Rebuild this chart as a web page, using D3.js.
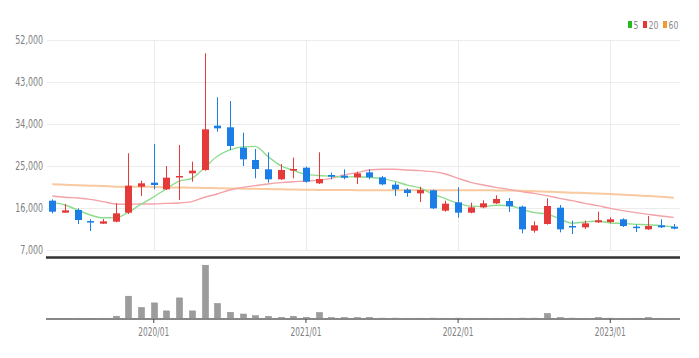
<!DOCTYPE html>
<html>
<head>
<meta charset="utf-8">
<script src="https://cdn.jsdelivr.net/npm/d3@7"></script>
<style>
  html, body { margin: 0; padding: 0; background: #fff; }
  svg { display: block; }
  text { font-family: "Liberation Sans Narrow", "DejaVu Sans Condensed", "Liberation Sans", sans-serif; }
</style>
</head>
<body>
<svg id="chart" width="699" height="358"></svg>
<script>
const months = ["2019/05","2019/06","2019/07","2019/08","2019/09","2019/10","2019/11","2019/12",
  "2020/01","2020/02","2020/03","2020/04","2020/05","2020/06","2020/07","2020/08","2020/09","2020/10","2020/11","2020/12",
  "2021/01","2021/02","2021/03","2021/04","2021/05","2021/06","2021/07","2021/08","2021/09","2021/10","2021/11","2021/12",
  "2022/01","2022/02","2022/03","2022/04","2022/05","2022/06","2022/07","2022/08","2022/09","2022/10","2022/11","2022/12",
  "2023/01","2023/02","2023/03","2023/04","2023/05","2023/06"];
const openP  = [17570,15000,15570,13200,12640,13070,15000,20570,21430,20000,22640,23430,24140,33640,33290,28930,26290,24290,22150,24000,
  24640,21290,23070,22930,22570,23640,22570,21000,19930,19140,19790,15430,17210,15000,16140,17000,17500,16290,11140,12570,
  16070,12140,11860,12930,13000,13570,12000,11430,12290,12000];
const highP  = [17860,16860,15930,13570,13640,17000,27720,21860,29720,25000,29500,25930,49140,39720,38930,32140,28640,27930,25430,26790,
  24860,27930,23570,24290,23790,24290,22860,21500,20220,20570,19930,17570,20430,17140,17640,18710,18140,16500,13140,18070,
  16640,13290,13290,15220,14000,13790,12430,14290,13570,12570];
const lowP   = [14870,14950,12570,11070,12570,12930,14710,18570,20000,19860,17710,21640,24000,32360,28430,25000,22360,21430,22000,22360,
  21430,21140,22150,22150,21140,22150,20860,18570,18420,17290,15790,15220,13930,14860,15930,16860,15140,10570,10710,12430,
  10790,10430,11500,12790,12710,11930,10860,11290,11710,11430];
const closeP = [15210,15500,13430,13000,13140,14860,20780,21290,20930,22500,22860,24000,32860,33070,29290,26430,24360,22150,24140,24360,
  21640,22210,22710,22500,23430,22570,21070,20000,19210,19860,15930,16930,15000,16140,17000,17930,16360,11430,12290,16430,
  11430,11860,12710,13360,13570,12140,11710,12140,11860,11570];
const volume = [20,20,30,20,30,230,2230,1100,1560,760,2060,760,5330,1500,620,450,280,220,120,220,
  120,600,100,100,100,110,40,40,30,30,40,30,40,30,30,30,30,40,40,500,
  100,40,30,100,40,30,30,100,30,30];
const ma5  = [17210,16640,15570,14500,13900,13900,15100,16800,18400,20150,21750,22360,24630,27100,28450,29100,29200,27050,25100,24100,
  23200,22950,22850,22650,22700,22600,22300,21700,20900,20300,19000,18000,17000,16400,16300,16600,16550,15750,15000,14700,
  13700,12750,13000,13200,12800,12700,12500,12400,12200,11950];
const ma20 = [18570,18290,18140,17860,17360,16860,16790,16860,16860,17000,17070,17360,18300,19000,19860,20430,20790,21140,21430,21640,
  21790,22000,22360,23070,23570,24140,24290,24290,24140,24000,23790,23290,22360,21500,20930,20430,20000,19500,19140,18640,
  18070,17570,17000,16500,15930,15430,15000,14640,14290,14000];
const ma60 = [21070,21000,20860,20790,20720,20570,20540,20570,20500,20430,20400,20360,20290,20250,20200,20150,20100,20070,20000,19950,
  19900,19880,19850,19840,19830,19830,19830,19830,19830,19830,19830,19830,19820,19800,19790,19770,19740,19710,19600,19500,
  19400,19290,19200,19100,19000,18860,18710,18570,18400,18210];
const yTicks = [7000,16000,25000,34000,43000,52000];
const xTickLabels = ["2020/01","2021/01","2022/01","2023/01"];
const legendItems = ["5","20","60"];

const svg = d3.select("#chart");
const x = d3.scaleBand().domain(months).range([46, 680]).padding(0);
const cx = m => x(m) + x.bandwidth() / 2;
const y = d3.scaleLinear().domain([7000, 52000]).range([250, 40]);
const yv = d3.scaleLinear().domain([0, 5650]).range([318.5, 262]);

const UP = "#e53a3a", DOWN = "#1a7ee6";
const colMA = {"5": "#8edc8e", "20": "#f3a2a8", "60": "#f9c9a0"};

function squeeze(sel, f) {
  sel.each(function() {
    const w = this.getComputedTextLength();
    d3.select(this).attr("textLength", w * f).attr("lengthAdjust", "spacingAndGlyphs");
  });
}

// horizontal grid
svg.append("g").selectAll("line").data(yTicks).join("line")
  .attr("x1", 47).attr("x2", 680)
  .attr("y1", d => Math.round(y(d)) + 0.5).attr("y2", d => Math.round(y(d)) + 0.5)
  .attr("stroke", "#ececec").attr("stroke-width", 1);
// vertical grid
svg.append("g").selectAll("line").data(xTickLabels).join("line")
  .attr("x1", d => Math.round(cx(d)) + 0.5).attr("x2", d => Math.round(cx(d)) + 0.5)
  .attr("y1", 40).attr("y2", 251)
  .attr("stroke", "#ececec").attr("stroke-width", 1);

// y labels
const yAxis = d3.axisLeft(y).tickValues(yTicks).tickSize(0).tickPadding(0).tickFormat(d3.format(","));
const gy = svg.append("g").attr("transform", "translate(43,0)").call(yAxis);
gy.select(".domain").remove();
gy.selectAll("text").attr("fill", "#808080").attr("font-size", 11.5)
  .attr("font-family", '"Liberation Sans Narrow", "DejaVu Sans Condensed", sans-serif');
squeeze(gy.selectAll("text"), 0.765);

// MA lines
const lineGen = arr => d3.line().x((d, i) => cx(months[i])).y(d => y(d)).curve(d3.curveMonotoneX)(arr);
svg.append("path").attr("d", lineGen(ma60)).attr("fill", "none").attr("stroke", colMA["60"]).attr("stroke-width", 2);
svg.append("path").attr("d", lineGen(ma20)).attr("fill", "none").attr("stroke", colMA["20"]).attr("stroke-width", 1.4);
svg.append("path").attr("d", lineGen(ma5)).attr("fill", "none").attr("stroke", colMA["5"]).attr("stroke-width", 1.4);

// candles
const candles = months.map((m, i) => ({m, o: openP[i], h: highP[i], l: lowP[i], c: closeP[i]}));
const cg = svg.append("g");
cg.selectAll("line").data(candles).join("line")
  .attr("x1", d => Math.round(cx(d.m)) + 0.5).attr("x2", d => Math.round(cx(d.m)) + 0.5)
  .attr("y1", d => y(d.h)).attr("y2", d => y(d.l))
  .attr("stroke", d => d.c >= d.o ? UP : DOWN).attr("stroke-width", 1);
const bw = 7;
cg.selectAll("rect").data(candles).join("rect")
  .attr("x", d => Math.round(cx(d.m)) + 0.5 - bw / 2)
  .attr("width", bw)
  .attr("y", d => Math.min(y(d.o), y(d.c)))
  .attr("height", d => Math.max(1.5, Math.abs(y(d.o) - y(d.c))))
  .attr("fill", d => d.c >= d.o ? UP : DOWN);

// separator
svg.append("line").attr("x1", 46).attr("x2", 680).attr("y1", 257.5).attr("y2", 257.5)
  .attr("stroke", "#333").attr("stroke-width", 2.5);

// volume bars
svg.append("g").selectAll("rect").data(months).join("rect")
  .attr("x", m => Math.round(cx(m)) + 0.5 - 3)
  .attr("width", 6)
  .attr("y", (m, i) => yv(volume[i]))
  .attr("height", (m, i) => yv(0) - yv(volume[i]))
  .attr("fill", "#9c9c9c").attr("stroke", "#8a8a8a").attr("stroke-width", 0.5);

// volume baseline
svg.append("line").attr("x1", 46).attr("x2", 680).attr("y1", 319).attr("y2", 319)
  .attr("stroke", "#888").attr("stroke-width", 2);

// x axis
const xAxis = d3.axisBottom(x).tickValues(xTickLabels).tickSize(4).tickPadding(5).tickSizeOuter(0);
const gx = svg.append("g").attr("transform", "translate(0,319)").call(xAxis);
gx.select(".domain").remove();
gx.selectAll(".tick line").attr("stroke", "#444");
gx.selectAll("text").attr("fill", "#808080").attr("font-size", 11.5)
  .attr("font-family", '"Liberation Sans Narrow", "DejaVu Sans Condensed", sans-serif');
squeeze(gx.selectAll("text"), 0.72);

// legend
const lg = svg.append("g");
const legendX = [628, 643, 663];
legendItems.forEach((k, i) => {
  lg.append("rect").attr("x", legendX[i]).attr("y", 21).attr("width", 4).attr("height", 7).attr("fill", {"5":"#22bb22","20":"#e83535","60":"#f39a2e"}[k]);
  const t = lg.append("text").attr("x", legendX[i] + 5.5).attr("y", 28.5).attr("font-size", 11).attr("fill", "#888").text(k);
  squeeze(t, 0.78);
});
</script>
</body>
</html>
